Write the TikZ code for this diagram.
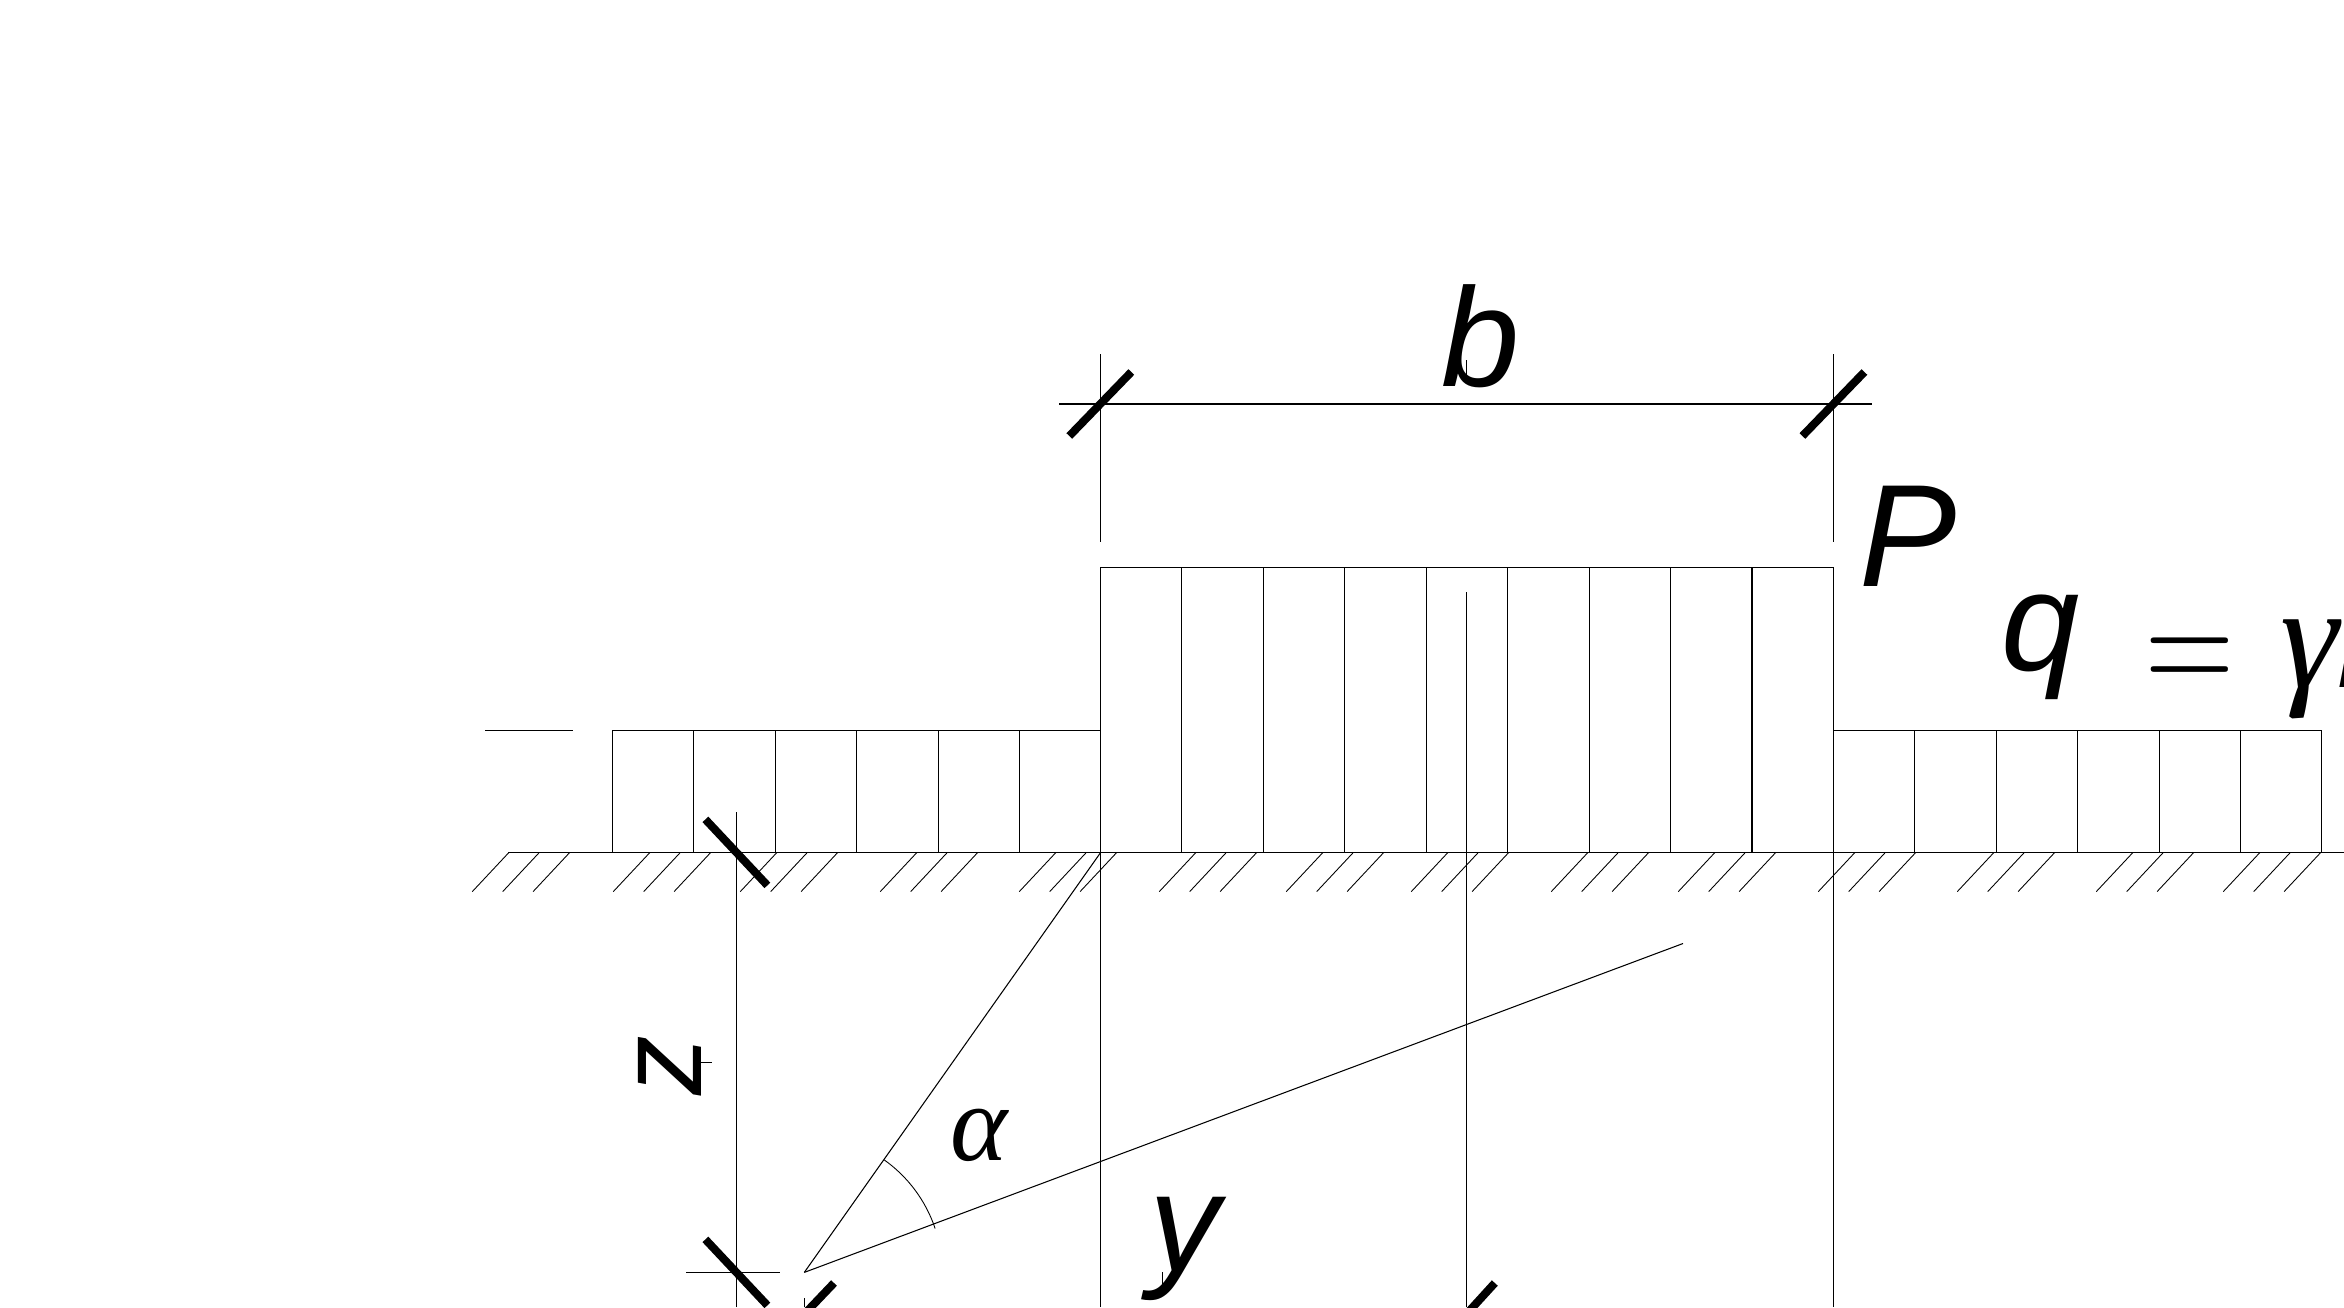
\documentclass[tikz,border=0pt]{standalone}
\usepackage{fontspec}
\setmainfont{Liberation Sans}
\newfontfamily\greekfont{Liberation Serif}
\usepackage{tikz}
\usetikzlibrary{positioning}
\tikzset{blockline/.style={line width=0.3pt}}
\tikzset{hatchline/.style={line width=0.25pt}}
\tikzset{dimtick/.style={line width=0.08cm}}
\tikzset{biglabel/.style={anchor=base,inner sep=0pt,font=\fontsize{40}{40}\selectfont\itshape}}
\tikzset{mathlabel/.style={anchor=base,inner sep=0pt,font=\fontsize{24}{24}\selectfont}}
\tikzset{greeklabel/.style={anchor=base,inner sep=0pt,font=\greekfont\itshape}}

\begin{document}
\begin{tikzpicture}
\useasboundingbox (0,0) rectangle (23.44,13.07);
\clip (0,0) rectangle (23.44,13.07);
\coordinate (apex) at (8.043,0.346);
\coordinate (groundleft) at (5.08,4.546);
\coordinate (groundright) at (23.44,4.546);
% ground
\draw[blockline] (groundleft) -- (groundright);
\foreach \x in {5.09,6.50,7.77,9.17,10.56,11.96,13.23,14.48,15.88,17.15,18.55,19.94,21.33,22.60} {
\foreach \k in {0,1,2} {
\draw[hatchline] (\x+\k*0.304,4.546) -- ++(-0.367,-0.392);
}
}
% side loads
\draw[blockline] (4.85,5.766) -- (5.73,5.766);
\draw[blockline] (6.125,4.546) rectangle (11.003,5.766);
\draw[blockline] (18.334,4.546) rectangle (23.218,5.766);
\foreach \k in {1,...,5} {
\draw[blockline] (6.125+\k*0.814,4.546) -- (6.125+\k*0.814,5.766);
\draw[blockline] (18.334+\k*0.814,4.546) -- (18.334+\k*0.814,5.766);
}
% strip load
\draw[blockline] (11.003,4.546) rectangle (18.334,7.397);
\foreach \k in {1,...,8} {
\draw[blockline] (11.003+\k*0.8146,4.546) -- (11.003+\k*0.8146,7.397);
}
% verticals
\draw[blockline] (11.003,0) -- (11.003,4.546);
\draw[blockline] (18.334,0) -- (18.334,4.546);
\draw[blockline] (14.665,0) -- (14.665,7.152);
\draw[blockline] (7.364,0) -- (7.364,4.95);
\draw[blockline] (8.043,0) -- (8.043,0.09);
% dimension b
\draw[blockline] (10.59,9.03) -- (18.72,9.03);
\draw[blockline] (11.003,7.654) -- (11.003,9.531);
\draw[blockline] (18.334,7.654) -- (18.334,9.531);
\draw[dimtick] (11.003-0.31,9.03-0.32) -- (11.003+0.31,9.03+0.32);
\draw[dimtick] (18.334-0.31,9.03-0.32) -- (18.334+0.31,9.03+0.32);
\draw[hatchline] (14.665,9.31) -- (14.665,9.47);
% dimension z
\draw[dimtick] (7.364-0.31,4.546+0.33) -- (7.364+0.31,4.546-0.33);
\draw[dimtick] (7.364-0.31,0.346+0.33) -- (7.364+0.31,0.346-0.33);
\draw[blockline] (6.86,0.346) -- (7.80,0.346);
\draw[hatchline] (7.00,2.446) -- (7.12,2.446);
% dimension y
\draw[dimtick] (8.03+0.31,0.24) -- (8.03-0.30,-0.40);
\draw[dimtick] (14.665+0.283,0.24) -- (14.665-0.30,-0.40);
\draw[hatchline] (11.625,0.35) -- (11.625,0.20);
% angle
\draw[blockline] (apex) -- (11.007,4.546);
\draw[blockline] (apex) -- (16.83,3.635);
\draw[hatchline] (apex) ++(54.8:1.38) arc[start angle=54.8,end angle=18.6,radius=1.38];
% labels
\node[biglabel] (blabel) at (14.81,9.205) {b};
\node[biglabel,font=\fontsize{41.5}{41.5}\selectfont\itshape] (plabel) at (19.08,7.20) {P};
\node[biglabel] (qlabel) at (20.41,6.36) {q};
\node[mathlabel,xscale=1.41,yscale=1.85] (eqlabel) at (21.90,6.12) {$=$};
\node[greeklabel,font=\fontsize{42}{42}\selectfont\greekfont\itshape] (gammalabel) at (23.10,6.20) {γ};
\node[biglabel,anchor=base west] (hlabel) at (23.37,6.20) {h};
\node[biglabel] (ylabel) at (11.85,0.36) {y};
\node[biglabel,font=\fontsize{34}{34}\selectfont\itshape,rotate=90,anchor=base] (zlabel) at (7.01,2.41) {z};
\node[greeklabel,font=\fontsize{31}{31}\selectfont\greekfont\itshape] (alphalabel) at (9.79,1.47) {α};
\end{tikzpicture}
\end{document}
